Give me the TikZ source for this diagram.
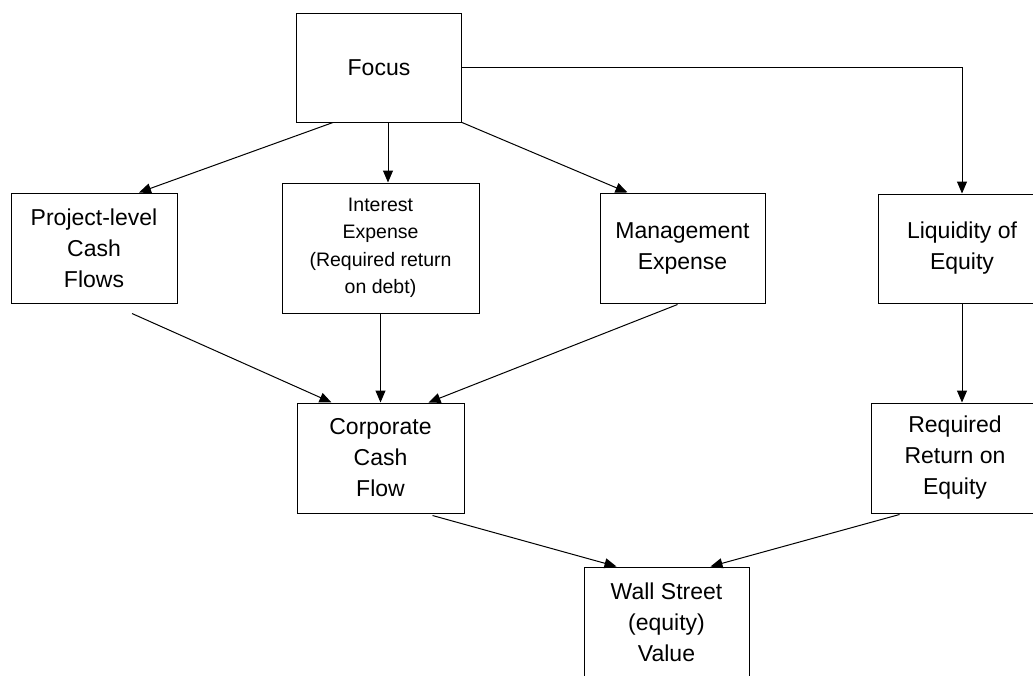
\documentclass[tikz,border=0pt]{standalone}
\usepackage{fontspec}
\setmainfont{Liberation Sans}
\usetikzlibrary{calc,arrows.meta}
\begin{document}
\begin{tikzpicture}[x=1pt,y=-1pt,
  box/.style={draw,line width=1pt,minimum width=165pt,minimum height=110pt,
    align=center,inner sep=0pt,font=\fontsize{23}{31}\selectfont},
  smallbox/.style={box,minimum width=196pt,minimum height=130pt,font=\fontsize{19.5}{27.5}\selectfont},
  arr/.style={line width=1pt,-{Triangle[length=12pt,width=10pt]}}]
\useasboundingbox (0,0) rectangle (1033,675);
\node[box,minimum height=109pt] (focus) at (379,67.5) {Focus};
\node[box,minimum width=166pt] (proj) at (94,248) {Project-level\\Cash\\Flows};
\node[smallbox,minimum width=197pt] (inter) at (380.5,248) {Interest\\Expense\\(Required return\\on debt)};
\node[box] (mgmt) at (682.5,248) {Management\\Expense};
\node[box,minimum width=168pt,minimum height=109pt] (liq) at (962,248.5) {Liquidity of\\Equity};
\node[box,minimum width=168pt] (req) at (955,458) {Required\\Return on\\Equity};
\node[box,minimum width=167pt] (corp) at (380.5,458) {Corporate\\Cash\\Flow};
\node[box] (wall) at (666.5,622) {Wall Street\\(equity)\\Value};
\draw[arr] ($(focus.south west)+(37,0)$) -- ($(proj.north)+(45,0)$);
\draw[arr] ($(focus.south)+(9,0)$) -- ($(inter.north)+(7.5,0)$);
\draw[arr] (focus.south east) -- ($(mgmt.north west)+(28,0)$);
\draw[arr] (focus.east) -| (liq.north);
\draw[arr] ($(proj.south)+(38,10)$) -- ($(corp.north west)+(35,0)$);
\draw[arr] (inter.south) -- (corp.north);
\draw[arr] ($(mgmt.south)+(-5,1)$) -- ($(corp.north)+(48,0)$);
\draw[arr] (liq.south) -- (liq.south |- req.north);
\draw[arr] ($(corp.south)+(52,2)$) -- ($(wall.north west)+(33,0)$);
\draw[arr] ($(req.south west)+(29,1)$) -- ($(wall.north east)+(-39,0)$);
\end{tikzpicture}
\end{document}
